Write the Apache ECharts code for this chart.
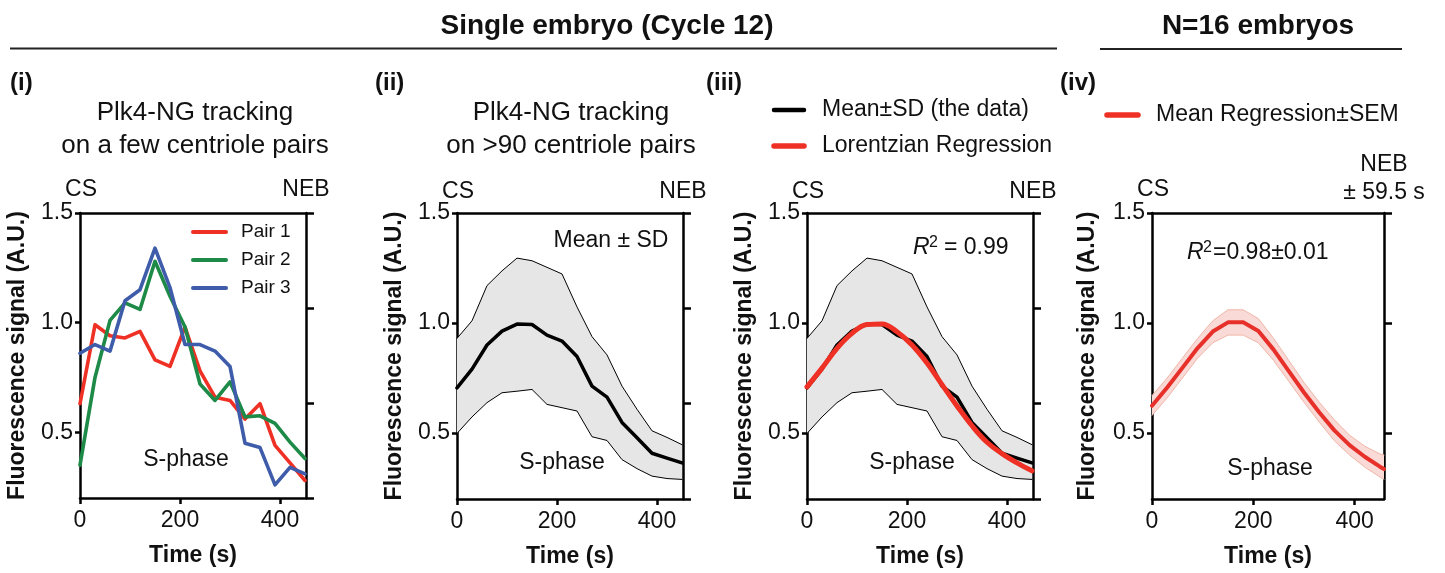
<!DOCTYPE html>
<html>
<head>
<meta charset="utf-8">
<script src="https://cdn.jsdelivr.net/npm/echarts@6/dist/echarts.min.js"></script>
<style>
  html, body { margin: 0; padding: 0; background: #fff; }
  #chart { width: 1445px; height: 573px; }
</style>
</head>
<body>
<div id="chart"></div>
<script>
// ---------------- DATA ----------------
const times = [0, 30, 60, 90, 120, 150, 180, 210, 240, 270, 300, 330, 360, 390, 420, 450];

// Panel (i): individual centriole pairs
const pair1 = [0.63, 0.99, 0.94, 0.93, 0.96, 0.83, 0.80, 0.98, 0.78, 0.66, 0.645, 0.56, 0.63, 0.44, 0.36, 0.28];
const pair2 = [0.35, 0.75, 1.01, 1.09, 1.06, 1.28, 1.12, 0.98, 0.72, 0.645, 0.73, 0.57, 0.575, 0.54, 0.455, 0.38];
const pair3 = [0.86, 0.90, 0.87, 1.10, 1.15, 1.34, 1.16, 0.90, 0.90, 0.87, 0.80, 0.45, 0.43, 0.26, 0.34, 0.31];

// Panels (ii)/(iii): mean ± SD over >90 pairs
const sdMean  = [0.705, 0.79, 0.90, 0.963, 0.995, 0.993, 0.945, 0.918, 0.848, 0.713, 0.663, 0.548, 0.478, 0.408, 0.386, 0.364];
const sdUpper = [0.93, 1.01, 1.17, 1.237, 1.295, 1.283, 1.253, 1.223, 1.073, 0.938, 0.855, 0.713, 0.608, 0.51, 0.48, 0.447];
const sdLower = [0.498, 0.573, 0.638, 0.683, 0.69, 0.698, 0.63, 0.615, 0.60, 0.483, 0.466, 0.379, 0.338, 0.304, 0.293, 0.289];

// Panel (iii): Lorentzian regression
const lorentzFit = [0.71, 0.795, 0.885, 0.953, 0.993, 0.996, 0.96, 0.90, 0.818, 0.72, 0.623, 0.533, 0.458, 0.406, 0.364, 0.328];

// Panel (iv): mean regression ± SEM, N=16 embryos
const timesIV  = [0, 30, 60, 90, 120, 150, 180, 210, 240, 270, 300, 330, 360, 390, 420, 450, 458];
const regMean  = [0.624, 0.707, 0.796, 0.886, 0.961, 1.003, 1.003, 0.964, 0.879, 0.781, 0.684, 0.594, 0.512, 0.445, 0.392, 0.347, 0.336];
const regUpper = [0.67, 0.75, 0.84, 0.93, 1.01, 1.06, 1.06, 1.02, 0.93, 0.83, 0.73, 0.64, 0.56, 0.49, 0.44, 0.405, 0.40];
const regLower = [0.58, 0.66, 0.75, 0.84, 0.91, 0.945, 0.945, 0.91, 0.83, 0.735, 0.64, 0.55, 0.465, 0.40, 0.345, 0.30, 0.29];

const yTicks = [0.5, 1.0, 1.5];
const xTicks = [0, 200, 400];

// ---------------- HELPERS ----------------
const FONT = 'Liberation Sans, Arial, Helvetica, sans-serif';
const TXT = '#111';
const pairs = (xs, ys) => xs.map((t, i) => [t, ys[i]]);

const grids = [
  { left: 80,   top: 213, width: 226, height: 285 },
  { left: 457,  top: 213, width: 226, height: 288 },
  { left: 807,  top: 213, width: 226, height: 288 },
  { left: 1152, top: 213, width: 232, height: 289 }
];
const xMax = [452, 452, 452, 458];
const nameGaps = [51, 51, 51, 53];

const xAxis = [], yAxis = [];
grids.forEach((g, i) => {
  const line = { show: true, onZero: false, lineStyle: { color: '#000', width: 2.5 } };
  const tickStyle = { width: 2.5, color: '#000' };
  xAxis.push({
    type: 'value', gridIndex: i, min: 0, max: xMax[i], position: 'bottom',
    axisLine: line,
    axisTick: { show: true, inside: false, length: 6, customValues: xTicks, lineStyle: tickStyle },
    axisLabel: { customValues: xTicks, margin: 11, color: TXT, fontFamily: FONT, fontSize: 23 },
    splitLine: { show: false },
    name: 'Time (s)', nameLocation: 'middle', nameGap: 46,
    nameTextStyle: { fontFamily: FONT, fontSize: 23, fontWeight: 'bold', color: TXT }
  });
  xAxis.push({
    type: 'value', gridIndex: i, min: 0, max: xMax[i], position: 'top',
    axisLine: line, axisTick: { show: false }, axisLabel: { show: false }, splitLine: { show: false }
  });
  yAxis.push({
    type: 'value', gridIndex: i, min: 0.2, max: 1.5, position: 'left',
    axisLine: line,
    axisTick: { show: true, inside: false, length: 5, customValues: yTicks, lineStyle: tickStyle },
    axisLabel: { customValues: yTicks, margin: 7, color: TXT, fontFamily: FONT, fontSize: 23,
                 formatter: v => v.toFixed(1) },
    splitLine: { show: false },
    name: 'Fluorescence signal (A.U.)', nameLocation: 'middle', nameGap: nameGaps[i],
    nameTextStyle: { fontFamily: FONT, fontSize: 23, fontWeight: 'bold', color: TXT }
  });
  if (i < 3) {
    yAxis.push({
      type: 'value', gridIndex: i, min: 0, max: 3, interval: 1, position: 'right',
      axisLine: line,
      axisTick: { show: true, inside: false, length: 8, lineStyle: tickStyle },
      axisLabel: { show: false }, splitLine: { show: false }
    });
  } else {
    yAxis.push({
      type: 'value', gridIndex: i, min: 0.2, max: 1.5, position: 'right',
      axisLine: line,
      axisTick: { show: true, inside: false, length: 8, customValues: yTicks, lineStyle: tickStyle },
      axisLabel: { show: false }, splitLine: { show: false }
    });
  }
});

function lineSeries(name, grid, xs, ys, color, width, extra) {
  return Object.assign({
    name, type: 'line', xAxisIndex: grid * 2, yAxisIndex: grid * 2,
    data: pairs(xs, ys), symbol: 'none', showSymbol: false, silent: true,
    lineStyle: { color, width, join: 'round', cap: 'round' }, itemStyle: { color }
  }, extra || {});
}
// shaded band between lower and upper, drawn as one polygon through the axes' own scales
function bandSeries(name, grid, xs, lower, upper, fill) {
  const data = xs.map((t, i) => [t, lower[i], upper[i]]);
  return {
    name, type: 'custom', xAxisIndex: grid * 2, yAxisIndex: grid * 2, silent: true,
    data, encode: { x: 0, y: [1, 2] }, clip: true,
    renderItem: (params, api) => {
      if (params.dataIndex !== 0) return null;
      const up = data.map(d => api.coord([d[0], d[2]]));
      const lo = data.map(d => api.coord([d[0], d[1]])).reverse();
      return { type: 'polygon', shape: { points: up.concat(lo) }, style: { fill, stroke: null } };
    }
  };
}

const RED = '#ee3124', GREEN = '#1d8a47', BLUE = '#3e5ca9';

const series = [
  lineSeries('Pair 1', 0, times, pair1, RED, 3.6),
  lineSeries('Pair 2', 0, times, pair2, GREEN, 3.6),
  lineSeries('Pair 3', 0, times, pair3, BLUE, 3.6),

  bandSeries('SD band (ii)', 1, times, sdLower, sdUpper, '#e6e6e6'),
  lineSeries('Mean+SD (ii)', 1, times, sdUpper, '#000', 1),
  lineSeries('Mean-SD (ii)', 1, times, sdLower, '#000', 1),
  lineSeries('Mean ± SD', 1, times, sdMean, '#000', 3.5),

  bandSeries('SD band (iii)', 2, times, sdLower, sdUpper, '#e6e6e6'),
  lineSeries('Mean+SD (iii)', 2, times, sdUpper, '#000', 1),
  lineSeries('Mean-SD (iii)', 2, times, sdLower, '#000', 1),
  lineSeries('Mean±SD (the data)', 2, times, sdMean, '#000', 3.5),
  lineSeries('Lorentzian Regression', 2, times, lorentzFit, RED, 5, { smooth: 0.4 }),

  bandSeries('SEM band', 3, timesIV, regLower, regUpper, '#f9dad6'),
  lineSeries('Mean Regression+SEM', 3, timesIV, regUpper, '#f0b5a6', 1),
  lineSeries('Mean Regression-SEM', 3, timesIV, regLower, '#f0b5a6', 1),
  lineSeries('Mean Regression±SEM', 3, timesIV, regMean, '#e8302a', 4)
];

// ---------------- TEXT / DECORATION ----------------
function T(text, x, y, size, weight, align, style) {
  return {
    type: 'text', x, y, silent: true,
    style: Object.assign({ text, fill: TXT, font: `${weight || 'normal'} ${size}px ${FONT}`,
      align: align || 'left', verticalAlign: 'middle' }, style || {})
  };
}
const C = (text, x, y, size, weight) => T(text, x, y, size, weight, 'center');
const L = (x1, y1, x2, y2, color, w, cap) => ({
  type: 'line', silent: true, shape: { x1, y1, x2, y2 },
  style: { stroke: color, lineWidth: w, lineCap: cap || 'butt' }
});

const graphic = [
  C('Single embryo (Cycle 12)', 607, 26, 28, 'bold'),
  L(10, 48.5, 1057, 48.5, '#222', 2),
  C('N=16 embryos', 1258, 26, 28, 'bold'),
  L(1100, 49, 1402, 49, '#222', 2),

  T('(i)', 10, 83, 24, 'bold'),
  T('(ii)', 375, 83, 24, 'bold'),
  T('(iii)', 706, 83, 24, 'bold'),
  T('(iv)', 1060, 83, 24, 'bold'),

  C('Plk4-NG tracking', 195, 113, 26),
  C('on a few centriole pairs', 195, 146, 26),
  C('Plk4-NG tracking', 571, 113, 26),
  C('on >90 centriole pairs', 571, 146, 26),

  // legend (iii)
  L(774, 110, 804, 110, '#000', 4.5, 'round'),
  T('Mean±SD (the data)', 822, 110, 23),
  L(774, 146, 804, 146, RED, 5.5, 'round'),
  T('Lorentzian Regression', 822, 146, 23),
  // legend (iv)
  L(1107, 115, 1138, 115, RED, 5.5, 'round'),
  T('Mean Regression±SEM', 1156, 115, 23),

  // legend (i)
  L(193, 232, 226, 232, RED, 4, 'round'),
  T('Pair 1', 241, 232, 19),
  L(193, 260, 226, 260, GREEN, 4, 'round'),
  T('Pair 2', 241, 260, 19),
  L(193, 288, 226, 288, BLUE, 4, 'round'),
  T('Pair 3', 241, 288, 19),

  // CS / NEB markers
  C('CS', 81, 190, 23), C('NEB', 306, 190, 23),
  C('CS', 458, 192, 23), C('NEB', 683, 192, 23),
  C('CS', 808, 192, 23), C('NEB', 1033, 192, 23),
  C('CS', 1153, 190, 23), C('NEB', 1384, 165, 23), C('± 59.5 s', 1384, 193, 23),

  // S-phase
  C('S-phase', 186, 460, 23), C('S-phase', 562, 463, 23),
  C('S-phase', 912, 463, 23), C('S-phase', 1270, 469, 23),

  C('Mean ± SD', 611, 241, 23),

  // R² annotations
  T('R', 913, 248, 23, 'italic'),
  T('2', 929, 243, 16),
  T('= 0.99', 944, 248, 23),
  T('R', 1187, 253, 23, 'italic'),
  T('2', 1203, 248, 16),
  T('=0.98±0.01', 1213, 253, 23)
];

const chart = echarts.init(document.getElementById('chart'), null, { renderer: 'canvas' });
chart.setOption({
  animation: false,
  backgroundColor: '#fff',
  textStyle: { fontFamily: FONT },
  grid: grids,
  xAxis, yAxis, series, graphic
});
</script>
</body>
</html>
